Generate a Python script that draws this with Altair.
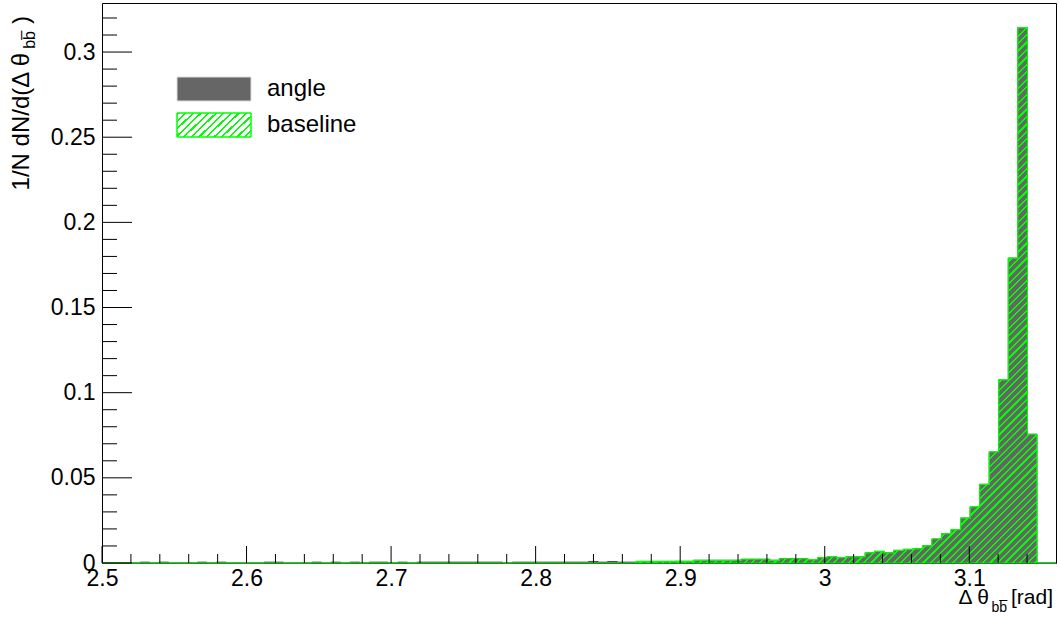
import altair as alt
import pandas as pd

# ---------------- data ----------------
x_min = 2.5
x_max = 3.16
n_bins = 100
y_max = 0.3288

angle_values = [
    0, 0, 0, 0, 0.0005, 0, 0.0005, 0, 0, 0,
    0.0005, 0, 0.0005, 0, 0, 0, 0, 0.0005, 0.0005, 0,
    0, 0, 0.0005, 0, 0.0005, 0, 0.0005, 0, 0.0005, 0.0005,
    0, 0.0005, 0, 0.0005, 0.0005, 0.0005, 0.0005, 0.0005, 0.0005, 0.0005,
    0.0005, 0.0005, 0, 0.0005, 0.0005, 0.0005, 0.0005, 0.0005, 0.0005, 0.0005,
    0.0005, 0.0009, 0.0005, 0.0009, 0.0005, 0.0005, 0.0009, 0.0009, 0.0009, 0.0009,
    0.0010, 0.0010, 0.0016, 0.0016, 0.0016, 0.0016, 0.0016, 0.0022, 0.0022, 0.0022,
    0.0016, 0.0025, 0.0025, 0.0025, 0.0020, 0.0031, 0.0037, 0.0031, 0.0036, 0.0036,
    0.0060, 0.0068, 0.0060, 0.0074, 0.0080, 0.0083, 0.0101, 0.0141, 0.0172, 0.0196,
    0.0264, 0.0329, 0.0462, 0.0652, 0.1075, 0.1790, 0.3144, 0.0756, 0, 0,
]
baseline_values = [
    0, 0, 0, 0, 0, 0, 0, 0, 0, 0,
    0, 0, 0, 0, 0, 0, 0, 0, 0, 0,
    0, 0, 0, 0, 0, 0, 0, 0, 0, 0,
    0, 0, 0, 0, 0, 0, 0, 0, 0, 0,
    0, 0, 0, 0, 0, 0, 0, 0, 0, 0,
    0, 0, 0, 0, 0, 0, 0.0009, 0.0009, 0.0009, 0.0009,
    0.0010, 0.0010, 0.0016, 0.0016, 0.0016, 0.0016, 0.0016, 0.0022, 0.0022, 0.0022,
    0.0016, 0.0025, 0.0025, 0.0025, 0.0020, 0.0031, 0.0037, 0.0031, 0.0036, 0.0036,
    0.0060, 0.0068, 0.0060, 0.0074, 0.0080, 0.0083, 0.0101, 0.0141, 0.0172, 0.0196,
    0.0264, 0.0329, 0.0462, 0.0652, 0.1075, 0.1790, 0.3144, 0.0756, 0, 0,
]

x_major = [2.5, 2.6, 2.7, 2.8, 2.9, 3.0, 3.1]
x_minor = [round(2.5 + 0.02 * k, 2) for k in range(1, 33) if k % 5 != 0]
y_major = [0, 0.05, 0.1, 0.15, 0.2, 0.25, 0.3]
y_minor = [round(0.01 * k, 2) for k in range(1, 33) if k % 5 != 0]

legend_labels = ["angle", "baseline"]

# ---------------- build tables ----------------
width_bin = (x_max - x_min) / n_bins
edges = [x_min + width_bin * i for i in range(n_bins + 1)]


def step_table(vals):
    rows = [{"x": edges[i], "v": vals[i]} for i in range(n_bins)]
    rows.append({"x": edges[-1], "v": vals[-1]})
    return pd.DataFrame(rows)


df_angle = step_table(angle_values)
df_base = step_table(baseline_values)

W, H = 954, 560
FONT = "Liberation Sans"
GREEN = "#00ff00"
GRAY = "#666666"
LABEL_SIZE = 23

xs = alt.Scale(domain=[x_min, x_max], nice=False, zero=False)
ys = alt.Scale(domain=[0, y_max], nice=False, zero=True)


def hatch(n, frac, bw, bh):
    r = bh / bw
    dx = (1 + r) / (1 + r * r)
    dy = r * dx
    stops = []
    for k in range(n):
        a = k / n
        b = (k + frac) / n
        c = (k + 1) / n
        stops += [
            alt.GradientStop(color=GREEN, offset=a),
            alt.GradientStop(color=GREEN, offset=b),
            alt.GradientStop(color="rgba(0,255,0,0)", offset=b),
            alt.GradientStop(color="rgba(0,255,0,0)", offset=c),
        ]
    return alt.LinearGradient(gradient="linear", stops=stops, x1=0, y1=0, x2=dx, y2=dy)


area_h = max(baseline_values) / y_max * H
grad_main = hatch(200, 0.3, W, area_h)
grad_leg = hatch(13, 0.3, 74, 25)

x_enc = alt.X("x:Q", scale=xs, axis=alt.Axis(values=x_major, format="~g", ticks=False, domain=False,
                                               grid=False, title=None, labelFont=FONT,
                                               labelFontSize=LABEL_SIZE, labelColor="black",
                                               labelPadding=4, labelFlush=False))
y_enc = alt.Y("v:Q", scale=ys, axis=alt.Axis(values=y_major, format="~g", ticks=False, domain=False,
                                              grid=False, title=None, labelFont=FONT,
                                              labelFontSize=LABEL_SIZE, labelColor="black",
                                              labelPadding=7, labelFlush=False))

angle_area = alt.Chart(df_angle).mark_area(
    interpolate="step-after", fill=GRAY, stroke="#4d4d4d", strokeWidth=1
).encode(x=x_enc, y=y_enc)

base_area = alt.Chart(df_base).mark_area(
    interpolate="step-after", fill=grad_main, stroke=GREEN, strokeWidth=1.2
).encode(x=alt.X("x:Q", scale=xs), y=alt.Y("v:Q", scale=ys))

# ticks (inside, ROOT style)
xt_major = alt.Chart(pd.DataFrame({"t": x_major})).mark_rule(color="black", strokeWidth=1).encode(
    x=alt.X("t:Q", scale=xs), y=alt.value(H), y2=alt.value(H - 17))
xt_minor = alt.Chart(pd.DataFrame({"t": x_minor})).mark_rule(color="black", strokeWidth=1).encode(
    x=alt.X("t:Q", scale=xs), y=alt.value(H), y2=alt.value(H - 9))
yt_major = alt.Chart(pd.DataFrame({"t": y_major})).mark_rule(color="black", strokeWidth=1).encode(
    y=alt.Y("t:Q", scale=ys), x=alt.value(0), x2=alt.value(30))
yt_minor = alt.Chart(pd.DataFrame({"t": y_minor})).mark_rule(color="black", strokeWidth=1).encode(
    y=alt.Y("t:Q", scale=ys), x=alt.value(0), x2=alt.value(15))

one = alt.Data(values=[{}])

leg_angle = alt.Chart(one).mark_rect(fill=GRAY, stroke="#dddddd", strokeWidth=1).encode(
    x=alt.value(75), x2=alt.value(149), y=alt.value(74), y2=alt.value(98))
leg_base_bg = alt.Chart(one).mark_rect(fill="white", stroke=GREEN, strokeWidth=1).encode(
    x=alt.value(75), x2=alt.value(149), y=alt.value(110), y2=alt.value(134))
leg_base = alt.Chart(one).mark_rect(fill=grad_leg, stroke=GREEN, strokeWidth=1).encode(
    x=alt.value(75), x2=alt.value(149), y=alt.value(110), y2=alt.value(134))
leg_t1 = alt.Chart(one).mark_text(text=legend_labels[0], font=FONT, fontSize=24, align="left",
                                  baseline="middle", color="black").encode(x=alt.value(165), y=alt.value(86))
leg_t2 = alt.Chart(one).mark_text(text=legend_labels[1], font=FONT, fontSize=24, align="left",
                                  baseline="middle", color="black").encode(x=alt.value(165), y=alt.value(122))

# axis titles
xt1 = alt.Chart(one).mark_text(text="[rad]", font=FONT, fontSize=21, align="right",
                               baseline="alphabetic", color="black").encode(x=alt.value(951), y=alt.value(601))
xt2 = alt.Chart(one).mark_text(text="bb\u0305", font=FONT, fontSize=14, align="right",
                               baseline="alphabetic", color="black").encode(x=alt.value(905), y=alt.value(609))
xt3 = alt.Chart(one).mark_text(text="\u0394 \u03b8", font=FONT, fontSize=21, align="right",
                               baseline="alphabetic", color="black").encode(x=alt.value(887), y=alt.value(601))

yt1 = alt.Chart(one).mark_text(text="1/N dN/d(\u0394 \u03b8", font=FONT, fontSize=24, align="right",
                               baseline="middle", angle=270, color="black").encode(x=alt.value(-80), y=alt.value(50))
yt2 = alt.Chart(one).mark_text(text="bb\u0305", font=FONT, fontSize=16, align="right",
                               baseline="middle", angle=270, color="black").encode(x=alt.value(-72), y=alt.value(28))
yt3 = alt.Chart(one).mark_text(text=")", font=FONT, fontSize=24, align="right",
                               baseline="middle", angle=270, color="black").encode(x=alt.value(-80), y=alt.value(13))

chart = alt.layer(
    angle_area, base_area, xt_major, xt_minor, yt_major, yt_minor,
    leg_angle, leg_base_bg, leg_base, leg_t1, leg_t2,
    xt1, xt2, xt3, yt1, yt2, yt3,
).properties(
    width=W, height=H,
    autosize=alt.AutoSizeParams(type="none"),
    padding={"left": 102, "top": 3, "right": 4, "bottom": 56},
    background="white",
).configure_view(stroke="black", strokeWidth=1)

chart.save("out.html", embed_options={"renderer": "svg", "actions": False})
